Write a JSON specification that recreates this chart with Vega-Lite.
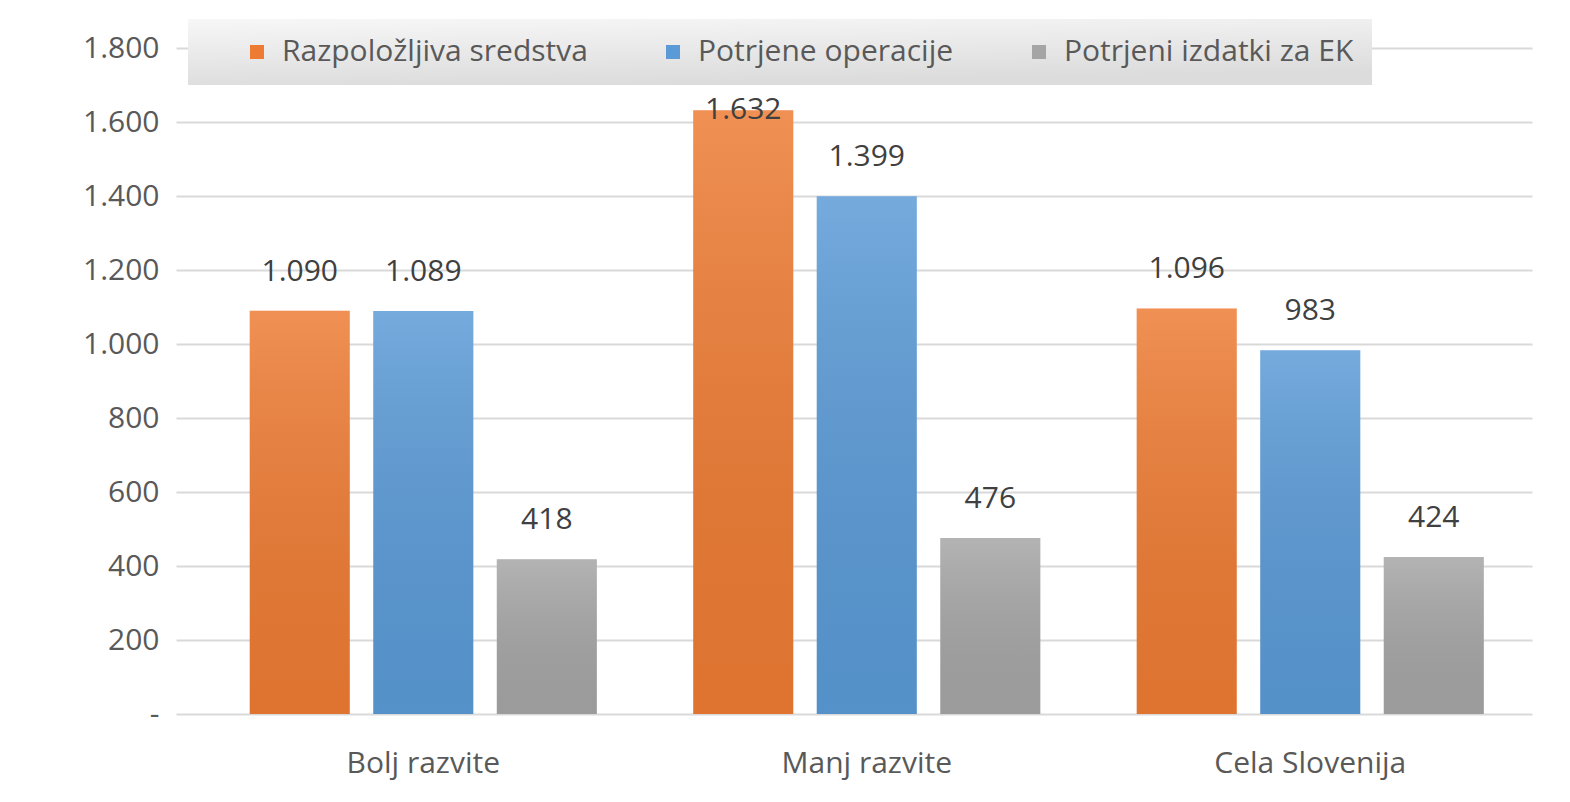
{
  "$schema": "https://vega.github.io/schema/vega-lite/v6.json",
  "width": 1356,
  "height": 666,
  "autosize": {"type": "none"},
  "padding": {"left": 176, "top": 48, "right": 38, "bottom": 88},
  "background": "white",
  "config": {
    "view": {"stroke": null},
    "font": "Open Sans",
    "locale": {"number": {"decimal": ",", "thousands": ".", "grouping": [3], "currency": ["", " €"]}}
  },
  "data": {
    "values": [
      {"regija": "Bolj razvite", "serija": "Razpoložljiva sredstva", "vrednost": 1090},
      {"regija": "Bolj razvite", "serija": "Potrjene operacije", "vrednost": 1089},
      {"regija": "Bolj razvite", "serija": "Potrjeni izdatki za EK", "vrednost": 418},
      {"regija": "Manj razvite", "serija": "Razpoložljiva sredstva", "vrednost": 1632},
      {"regija": "Manj razvite", "serija": "Potrjene operacije", "vrednost": 1399},
      {"regija": "Manj razvite", "serija": "Potrjeni izdatki za EK", "vrednost": 476},
      {"regija": "Cela Slovenija", "serija": "Razpoložljiva sredstva", "vrednost": 1096},
      {"regija": "Cela Slovenija", "serija": "Potrjene operacije", "vrednost": 983},
      {"regija": "Cela Slovenija", "serija": "Potrjeni izdatki za EK", "vrednost": 424}
    ]
  },
  "encoding": {
    "x": {
      "field": "regija",
      "type": "nominal",
      "sort": ["Bolj razvite", "Manj razvite", "Cela Slovenija"],
      "scale": {"paddingInner": 0, "paddingOuter": 0.0288, "align": 1},
      "axis": {
        "title": null,
        "labelAngle": 0,
        "labelFontSize": 30,
        "labelColor": "#595959",
        "labelPadding": 34,
        "labelLimit": 0,
        "domain": false,
        "ticks": false,
        "grid": false
      }
    },
    "xOffset": {
      "field": "serija",
      "type": "nominal",
      "sort": ["Razpoložljiva sredstva", "Potrjene operacije", "Potrjeni izdatki za EK"],
      "scale": {"paddingInner": 0.19, "paddingOuter": 0.39}
    },
    "y": {
      "field": "vrednost",
      "type": "quantitative",
      "scale": {"domain": [0, 1800], "nice": false},
      "axis": {
        "title": null,
        "values": [0, 200, 400, 600, 800, 1000, 1200, 1400, 1600, 1800],
        "labelExpr": "datum.value == 0 ? '-' : datum.label",
        "format": ",d",
        "labelFontSize": 30,
        "labelColor": "#595959",
        "labelPadding": 17,
        "domain": false,
        "ticks": false,
        "gridColor": "#d9d9d9",
        "gridWidth": 2
      }
    }
  },
  "layer": [
    {
      "mark": {"type": "bar"},
      "encoding": {
        "color": {
          "field": "serija",
          "type": "nominal",
          "sort": ["Razpoložljiva sredstva", "Potrjene operacije", "Potrjeni izdatki za EK"],
          "scale": {
            "domain": ["Razpoložljiva sredstva", "Potrjene operacije", "Potrjeni izdatki za EK"],
            "range": ["#ED7B33", "#5A9AD6", "#A5A5A5"]
          },
          "legend": {
            "orient": "none",
            "legendX": 12,
            "legendY": -29,
            "direction": "horizontal",
            "title": null,
            "gridAlign": "none",
            "labelFontSize": 30,
            "labelColor": "#595959",
            "labelLimit": 0,
            "symbolType": "square",
            "symbolSize": 196,
            "symbolStrokeWidth": 0,
            "labelOffset": 10,
            "columnPadding": 34,
            "padding": 18,
            "symbolOffset": 36,
            "fillColor": "#ebebeb",
            "encode": {
              "legend": {
                "update": {
                  "width": {"value": 1168},
                  "fill": {
                    "value": {
                      "gradient": "linear", "x1": 0, "y1": 0, "x2": 0.3, "y2": 1,
                      "stops": [
                        {"offset": 0, "color": "#f7f7f7"},
                        {"offset": 1, "color": "#dcdcdc"}
                      ]
                    }
                  }
                }
              }
            }
          }
        }
      }
    },
    {
      "mark": {
        "type": "bar",
        "color": {
          "gradient": "linear", "x1": 0, "y1": 0, "x2": 0, "y2": 1,
          "stops": [
            {"offset": 0, "color": "rgba(255,255,255,0.16)"},
            {"offset": 1, "color": "rgba(0,0,0,0.06)"}
          ]
        }
      },
      "encoding": {}
    },
    {
      "transform": [{"filter": "datum.vrednost < 1600"}],
      "mark": {"type": "text", "baseline": "middle", "dy": -39, "fontSize": 30, "color": "#404040"},
      "encoding": {"text": {"field": "vrednost", "type": "quantitative", "format": ",d"}}
    },
    {
      "transform": [{"filter": "datum.vrednost >= 1600"}],
      "mark": {"type": "text", "baseline": "middle", "dy": 0, "fontSize": 30, "color": "#404040"},
      "encoding": {"text": {"field": "vrednost", "type": "quantitative", "format": ",d"}}
    }
  ]
}
